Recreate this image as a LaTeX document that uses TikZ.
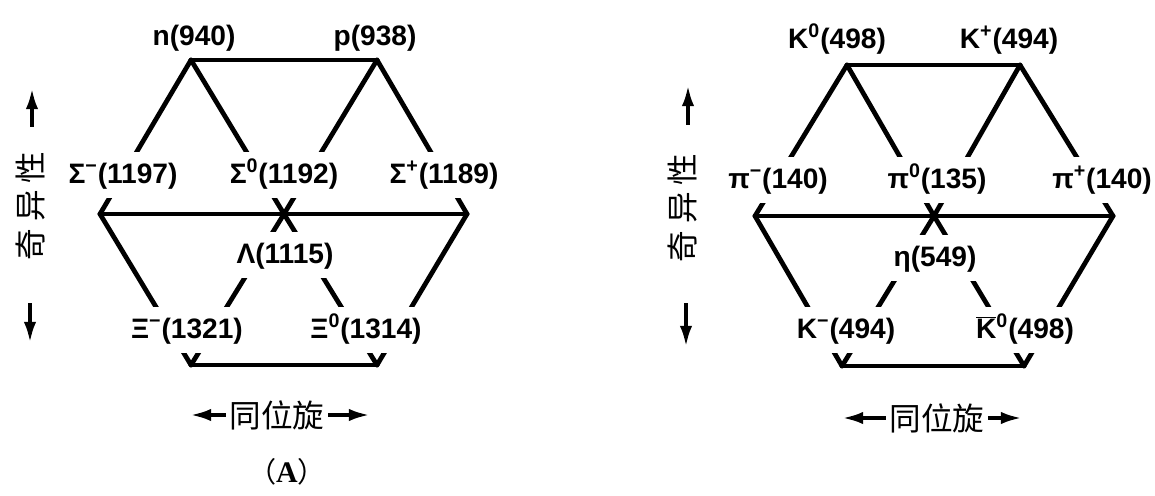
\documentclass[tikz,border=0pt]{standalone}
\usepackage{fontspec}
\setmainfont{Liberation Sans}
\newfontfamily\cjk{Noto Sans CJK SC}
\newfontfamily\capfont{Liberation Serif}
\usetikzlibrary{arrows.meta}
\tikzset{
  hexedge/.style={line width=2.7pt, line cap=round, line join=round},
  axisarr/.style={-{Latex[length=12pt,width=7pt]}, line width=2.2pt},
  partlbl/.style={inner xsep=2pt, inner ysep=7pt, text height=11pt, text depth=1pt,
    font=\fontsize{16}{16}\selectfont\bfseries},
}

\begin{document}
\begin{tikzpicture}[
  x=0.02cm, y=-0.02cm,
  gaplbl/.style={partlbl, fill=white},
  cjklbl/.style={font=\cjk\fontsize{18}{18}\selectfont, inner xsep=2pt, inner ysep=1pt},
]
  \useasboundingbox (0,0) rectangle (1155,496);

  % baryon octet
  \coordinate (nV) at (191,60);
  \coordinate (pV) at (377,60);
  \coordinate (smV) at (100,214);
  \coordinate (czV) at (284,214);
  \coordinate (spV) at (467,214);
  \coordinate (xmV) at (191,365);
  \coordinate (xzV) at (377,365);
  \foreach \a/\b in {nV/pV,nV/smV,nV/czV,pV/czV,pV/spV,smV/spV,smV/xmV,spV/xzV,czV/xmV,czV/xzV,xmV/xzV}
    \draw[hexedge] (\a) -- (\b);
  \node[partlbl] (nLbl) at (194,37) {n(940)};
  \node[partlbl] (pLbl) at (375,37) {p(938)};
  \node[gaplbl] (smLbl) at (123,175) {Σ\textsuperscript{−}(1197)};
  \node[gaplbl] (szLbl) at (284,175) {Σ\textsuperscript{0}(1192)};
  \node[gaplbl] (spLbl) at (444,175) {Σ\textsuperscript{+}(1189)};
  \node[gaplbl] (lamLbl) at (285,255) {Λ(1115)};
  \node[gaplbl] (xmLbl) at (187,330) {Ξ\textsuperscript{−}(1321)};
  \node[gaplbl] (xzLbl) at (366,330) {Ξ\textsuperscript{0}(1314)};

  % meson octet
  \coordinate (kzV) at (847,65);
  \coordinate (kpV) at (1020,65);
  \coordinate (pimV) at (755,216);
  \coordinate (etaV) at (934,216);
  \coordinate (pipV) at (1113,216);
  \coordinate (kmV) at (842,366);
  \coordinate (kbV) at (1024,366);
  \foreach \a/\b in {kzV/kpV,kzV/pimV,kzV/etaV,kpV/etaV,kpV/pipV,pimV/pipV,pimV/kmV,pipV/kbV,etaV/kmV,etaV/kbV,kmV/kbV}
    \draw[hexedge] (\a) -- (\b);
  \node[partlbl] (kzLbl) at (837,40) {K\textsuperscript{0}(498)};
  \node[partlbl] (kpLbl) at (1009,40) {K\textsuperscript{+}(494)};
  \node[gaplbl] (pimLbl) at (778,180) {π\textsuperscript{−}(140)};
  \node[gaplbl] (pizLbl) at (937,180) {π\textsuperscript{0}(135)};
  \node[gaplbl] (pipLbl) at (1102,180) {π\textsuperscript{+}(140)};
  \node[gaplbl] (etaLbl) at (935,258) {η(549)};
  \node[gaplbl] (kmLbl) at (846,330) {K\textsuperscript{−}(494)};
  \node[gaplbl] (kbLbl) at (1025,330) {$\overline{\mbox{K}}$\textsuperscript{0}(498)};

  % axes
  \node[cjklbl, rotate=90] (strL) at (31,206) {奇\hspace{4pt}异\hspace{4pt}性};
  \node[cjklbl, rotate=90] (strR) at (683,208) {奇\hspace{4pt}异\hspace{4pt}性};
  \coordinate (upL0) at (32,127);  \coordinate (upL1) at (32,88);
  \coordinate (dnL0) at (30,303);  \coordinate (dnL1) at (30,343);
  \coordinate (upR0) at (688,125); \coordinate (upR1) at (688,85);
  \coordinate (dnR0) at (686,303); \coordinate (dnR1) at (686,347);
  \foreach \a/\b in {upL0/upL1,dnL0/dnL1,upR0/upR1,dnR0/dnR1}
    \draw[axisarr] (\a) -- (\b);

  \node[cjklbl] (isoL) at (277,415) {同位旋};
  \node[cjklbl] (isoR) at (937,418) {同位旋};
  \coordinate (isoLw) at (190,415); \coordinate (isoLe) at (370,415);
  \coordinate (isoRw) at (842,418); \coordinate (isoRe) at (1022,418);
  \draw[axisarr] (isoL.west) -- (isoLw);
  \draw[axisarr] (isoL.east) -- (isoLe);
  \draw[axisarr] (isoR.west) -- (isoRw);
  \draw[axisarr] (isoR.east) -- (isoRe);

  \node[font=\cjk\fontsize{16}{16}\selectfont, inner sep=0pt] (capA) at (287,472) {（{\capfont\bfseries\fontsize{17}{17}\selectfont A}）};
\end{tikzpicture}
\end{document}
